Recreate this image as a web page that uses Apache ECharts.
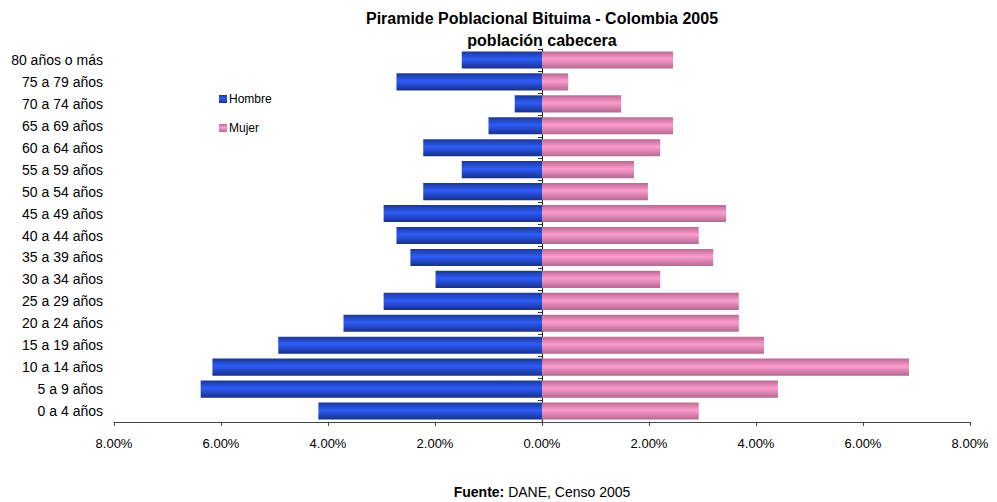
<!DOCTYPE html>
<html>
<head>
<meta charset="utf-8">
<script src="https://cdn.jsdelivr.net/npm/echarts@6/dist/echarts.min.js"></script>
<style>
  html, body { margin: 0; padding: 0; background: #ffffff; }
  #chart { width: 997px; height: 502px; }
</style>
</head>
<body>
<div id="chart"></div>
<script>
// Age groups, listed from the top of the pyramid down
const categories = [
  '80 años o más', '75 a 79 años', '70 a 74 años', '65 a 69 años',
  '60 a 64 años', '55 a 59 años', '50 a 54 años', '45 a 49 años',
  '40 a 44 años', '35 a 39 años', '30 a 34 años', '25 a 29 años',
  '20 a 24 años', '15 a 19 años', '10 a 14 años', '5 a 9 años', '0 a 4 años'
];

// Share of the urban population (%) per age group
const hombre = [1.50, 2.72, 0.51, 1.00, 2.22, 1.50, 2.22, 2.96, 2.72, 2.46, 1.99, 2.96, 3.71, 4.93, 6.16, 6.38, 4.18];
const mujer  = [2.45, 0.49, 1.48, 2.45, 2.21, 1.72, 1.98, 3.44, 2.93, 3.20, 2.21, 3.68, 3.68, 4.15, 6.86, 4.41, 2.93];

// Value axis ticks (%)
const axisMin = -8;
const axisMax = 8;
const axisStep = 2;

const titleLines = ['Piramide Poblacional Bituima - Colombia 2005', 'población cabecera'];
const seriesNames = ['Hombre', 'Mujer'];

const FONT = '"Liberation Sans", Arial, sans-serif';

function barGradient(edgeTop, mid, edgeBottom) {
  return new echarts.graphic.LinearGradient(0, 0, 0, 1, [
    { offset: 0, color: edgeTop },
    { offset: 0.45, color: mid },
    { offset: 1, color: edgeBottom }
  ]);
}

const chart = echarts.init(document.getElementById('chart'), null, { renderer: 'svg' });

const option = {
  backgroundColor: '#ffffff',
  animation: false,
  textStyle: { fontFamily: FONT, color: '#000' },
  grid: { left: 114, right: 27, top: 49, bottom: 80, containLabel: false },
  legend: {
    orient: 'vertical',
    left: 214,
    top: 88,
    itemWidth: 8,
    itemHeight: 8,
    itemGap: 17,
    icon: 'rect',
    textStyle: { fontFamily: FONT, fontSize: 12, color: '#000', padding: [0, 0, 0, -3] },
    data: seriesNames
  },
  xAxis: {
    type: 'value',
    min: axisMin,
    max: axisMax,
    interval: axisStep,
    splitLine: { show: false },
    axisLine: { show: true, lineStyle: { color: '#444', width: 1 } },
    axisTick: { show: true, length: 4, lineStyle: { color: '#444' } },
    axisLabel: {
      margin: 15,
      fontSize: 13,
      fontFamily: FONT,
      color: '#000',
      formatter: v => Math.abs(v).toFixed(2) + '%'
    }
  },
  yAxis: [
    {
      type: 'category',
      data: categories,
      inverse: true,
      position: 'left',
      axisLine: { show: false, onZero: false },
      axisTick: { show: false },
      axisLabel: { margin: 11, fontSize: 14, fontFamily: FONT, color: '#000' }
    },
    {
      type: 'category',
      data: categories,
      inverse: true,
      position: 'left',
      axisLine: { show: true, onZero: true, lineStyle: { color: '#1a1a2a', width: 1 } },
      axisTick: { show: true, length: 4, lineStyle: { color: '#333' } },
      axisLabel: { show: false }
    }
  ],
  series: [
    {
      name: seriesNames[0],
      type: 'bar',
      yAxisIndex: 0,
      barGap: '-100%',
      barCategoryGap: '22%',
      data: hombre.map(v => -v),
      itemStyle: { color: barGradient('#1b3894', '#2e5cf8', '#17308a') }
    },
    {
      name: seriesNames[1],
      type: 'bar',
      yAxisIndex: 0,
      barGap: '-100%',
      barCategoryGap: '22%',
      data: mujer,
      itemStyle: { color: barGradient('#bb6a92', '#fc9ccd', '#b46890') }
    }
  ],
  graphic: [
    {
      type: 'text',
      x: 542, y: 18,
      style: {
        text: titleLines[0],
        font: 'bold 16px ' + FONT,
        fill: '#000',
        textAlign: 'center',
        textVerticalAlign: 'middle'
      }
    },
    {
      type: 'text',
      x: 542, y: 40,
      style: {
        text: titleLines[1],
        font: 'bold 16px ' + FONT,
        fill: '#000',
        textAlign: 'center',
        textVerticalAlign: 'middle'
      }
    },
    {
      type: 'text',
      x: 542, y: 492,
      style: {
        text: '{b|Fuente:} DANE, Censo 2005',
        font: '14px ' + FONT,
        fill: '#000',
        textAlign: 'center',
        textVerticalAlign: 'middle',
        rich: { b: { fontWeight: 'bold', fontSize: 14, fontFamily: FONT } }
      }
    }
  ]
};

chart.setOption(option);
</script>
</body>
</html>
